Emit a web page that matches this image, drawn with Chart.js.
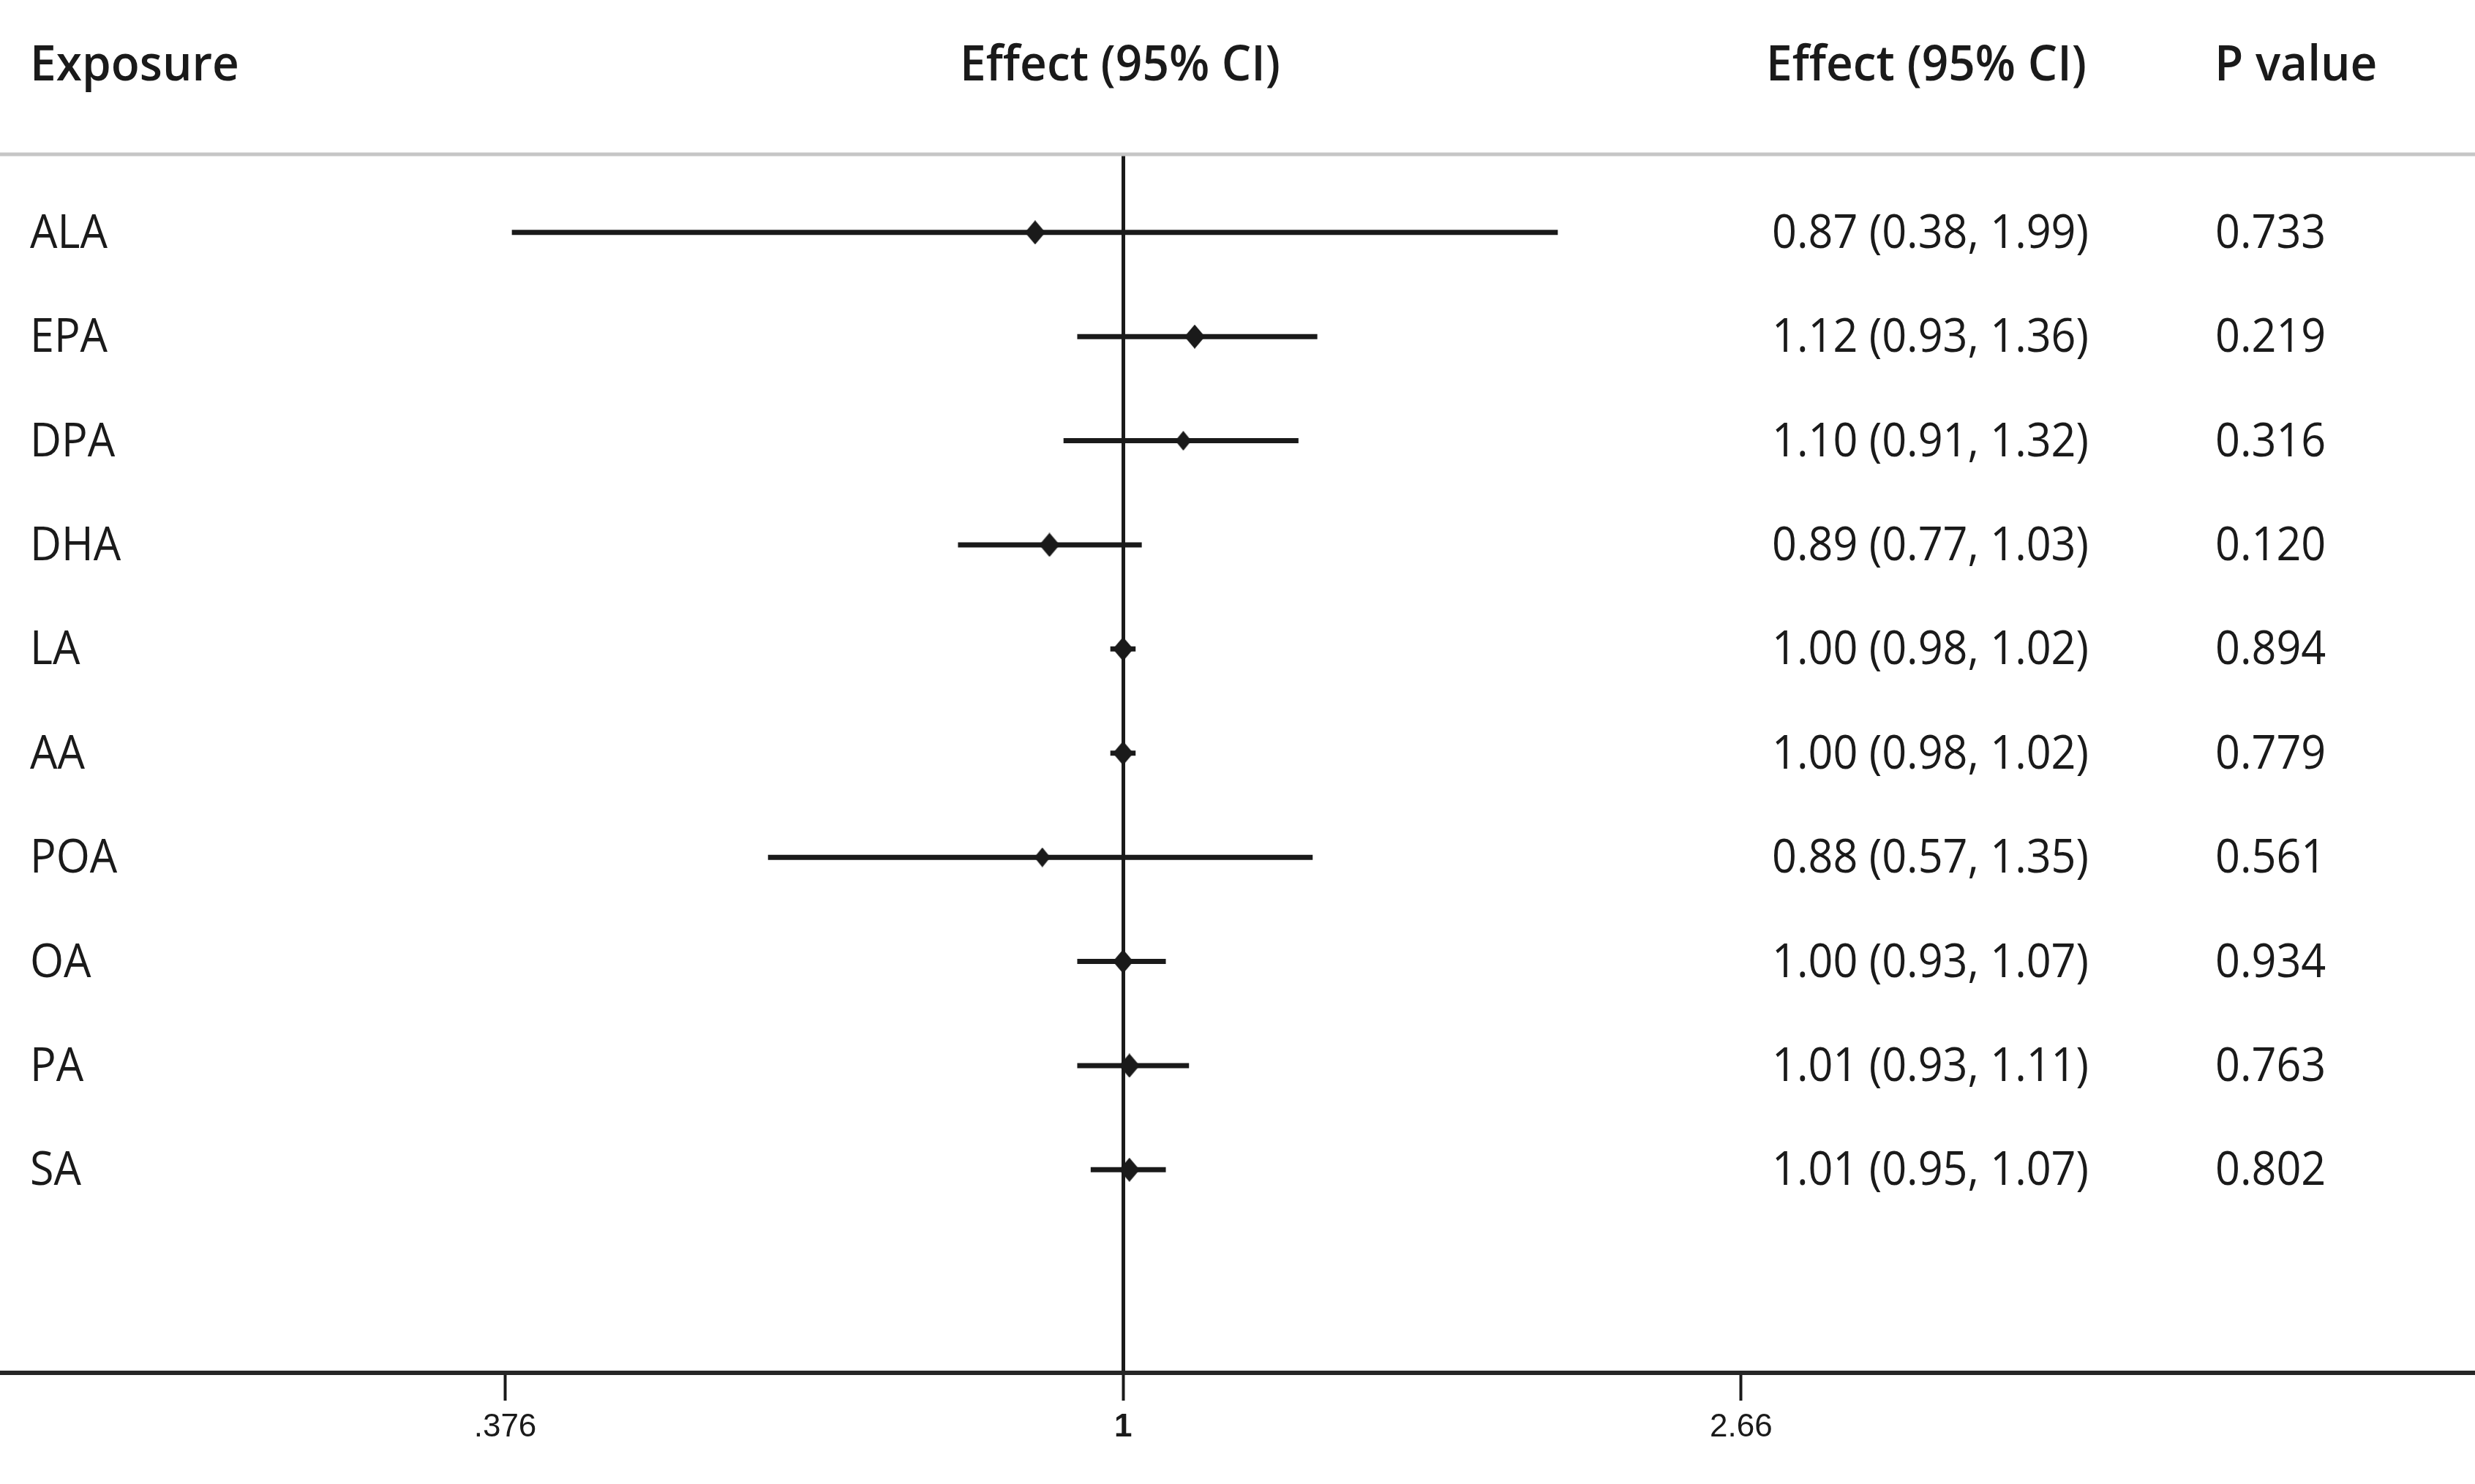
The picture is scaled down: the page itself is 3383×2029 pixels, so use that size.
<!DOCTYPE html>
<html>
<head>
<meta charset="utf-8">
<script src="https://cdn.jsdelivr.net/npm/chart.js@4.4.1/dist/chart.umd.min.js"></script>
<style>
  html, body { margin: 0; padding: 0; background: #fff; }
  #wrap { width: 3383px; height: 2029px; position: relative; }
</style>
</head>
<body>
<div id="wrap"><canvas id="forest"></canvas></div>
<script>
const exposures = ['ALA', 'EPA', 'DPA', 'DHA', 'LA', 'AA', 'POA', 'OA', 'PA', 'SA'];
const effect = [0.87, 1.12, 1.10, 0.89, 1.00, 1.00, 0.88, 1.00, 1.01, 1.01];
const lower = [0.38, 0.93, 0.91, 0.77, 0.98, 0.98, 0.57, 0.93, 0.93, 0.95];
const upper = [1.99, 1.36, 1.32, 1.03, 1.02, 1.02, 1.35, 1.07, 1.11, 1.07];
const pValues = ['0.733', '0.219', '0.316', '0.120', '0.894', '0.779', '0.561', '0.934', '0.763', '0.802'];
const tickValues = [0.376, 1, 2.66];
const tickLabels = ['.376', '1', '2.66'];

const FONT = "'Open Sans', 'Noto Sans', sans-serif";
const TICK_FONT = "'Liberation Sans', sans-serif";
const INK = '#1a1a1a';

// diamond marker drawn once, used as point style
function diamond(w, h) {
    const c = document.createElement('canvas');
    c.width = w; c.height = h;
    const g = c.getContext('2d');
    g.fillStyle = INK;
    g.beginPath();
    g.moveTo(w / 2, 0);
    g.lineTo(w, h / 2);
    g.lineTo(w / 2, h);
    g.lineTo(0, h / 2);
    g.closePath();
    g.fill();
    return c;
}
const bigMark = diamond(28, 33);
const smallMark = diamond(22, 27);

// the original type is a condensed face, so squeeze the text a little
function squeezed(ctx, text, x, y, k, align) {
    const w = ctx.measureText(text).width * k;
    let x0 = x;
    if (align === 'center') x0 = x - w / 2;
    ctx.save();
    ctx.translate(x0, y);
    ctx.scale(k, 1);
    ctx.textAlign = 'left';
    ctx.fillText(text, 0, 0);
    ctx.restore();
}

// text columns and header
const tablePlugin = {
    id: 'forestTable',
    beforeDatasetsDraw(chart) {
        const {ctx, chartArea} = chart;
        ctx.save();
        ctx.strokeStyle = '#c6c6c6';
        ctx.lineWidth = 5;
        ctx.beginPath();
        ctx.moveTo(0, chartArea.top);
        ctx.lineTo(chart.width, chartArea.top);
        ctx.stroke();
        ctx.restore();
    },
    afterDraw(chart) {
        const {ctx, scales} = chart;
        ctx.save();
        ctx.fillStyle = INK;
        ctx.textBaseline = 'alphabetic';

        ctx.font = '600 67px ' + FONT;
        const kh = 438 / ctx.measureText('Effect (95% CI)').width;
        squeezed(ctx, 'Exposure', 41, 110, kh);
        squeezed(ctx, 'Effect (95% CI)', scales.x.getPixelForValue(1) - 4, 110, kh, 'center');
        squeezed(ctx, 'Effect (95% CI)', 2414, 110, kh);
        squeezed(ctx, 'P value', 3027, 110, kh);

        ctx.font = '64px ' + FONT;
        const kr = 433 / ctx.measureText('0.87 (0.38, 1.99)').width;
        exposures.forEach((name, i) => {
            const py = scales.y.getPixelForValue(i) + 21;
            const txt = effect[i].toFixed(2) + ' (' + lower[i].toFixed(2) + ', ' + upper[i].toFixed(2) + ')';
            squeezed(ctx, name, 41, py, kr);
            squeezed(ctx, txt, 2422, py, kr);
            squeezed(ctx, pValues[i], 3028, py, kr);
        });
        ctx.restore();
    }
};

const ciSets = exposures.map((name, i) => ({
    label: name + ' CI',
    data: [{x: lower[i], y: i}, {x: upper[i], y: i}],
    showLine: true,
    borderColor: INK,
    borderWidth: 7,
    borderCapStyle: 'butt',
    pointRadius: 0
}));

const pointSet = {
    label: 'Effect',
    data: exposures.map((name, i) => ({x: effect[i], y: i})),
    pointStyle: ctx => (['DPA', 'POA'].includes(exposures[ctx.dataIndex]) ? smallMark : bigMark),
    pointRadius: 12,
    backgroundColor: INK,
    borderColor: INK
};

new Chart(document.getElementById('forest'), {
    type: 'scatter',
    data: { datasets: [pointSet].concat(ciSets) },
    options: {
        responsive: true,
        maintainAspectRatio: false,
        animation: false,
        devicePixelRatio: 1,
        layout: { autoPadding: false, padding: { top: 211, left: 0, right: 0, bottom: 0 } },
        plugins: { legend: { display: false }, tooltip: { enabled: false } },
        scales: {
            x: {
                type: 'logarithmic',
                position: 'bottom',
                min: 0.169,
                max: 8.5,
                afterBuildTicks: scale => { scale.ticks = tickValues.map(v => ({value: v})); },
                afterFit: scale => { scale.height = 152; },
                ticks: {
                    autoSkip: false,
                    maxRotation: 0,
                    padding: 10,
                    color: INK,
                    font: ctx => ({ family: TICK_FONT, size: 44, weight: (ctx.tick && ctx.tick.value === 1) ? 'bold' : 'normal' }),
                    callback: (v, i) => tickLabels[i]
                },
                grid: {
                    color: ctx => (ctx.tick && ctx.tick.value === 1 ? INK : 'rgba(0,0,0,0)'),
                    lineWidth: 5,
                    tickColor: INK,
                    tickLength: 38,
                    tickWidth: 4
                },
                border: { display: true, color: '#262626', width: 6 }
            },
            y: {
                type: 'linear',
                display: false,
                reverse: true,
                min: -0.75,
                max: 10.95
            }
        }
    },
    plugins: [tablePlugin]
});
</script>
</body>
</html>
